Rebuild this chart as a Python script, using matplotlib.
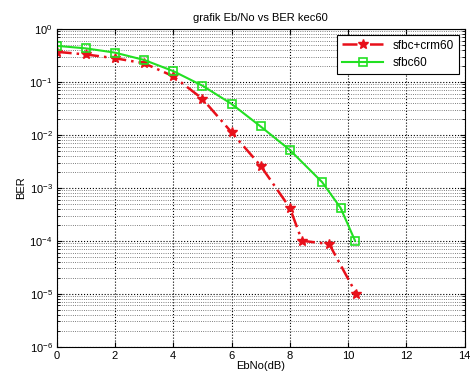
import matplotlib.pyplot as plt

# EbNo (dB) and BER values
ebno_crm = [0, 1, 2, 3, 4, 5, 6, 7, 8, 8.42, 9.35, 10.28]
ber_crm = [0.37, 0.33, 0.28, 0.225, 0.128, 0.048, 0.0112, 0.0026, 4.2e-4, 1.0e-4, 8.7e-5, 1.0e-5]

ebno_sfbc = [0, 1, 2, 3, 4, 5, 6, 7, 8, 9.11, 9.74, 10.24]
ber_sfbc = [0.48, 0.43, 0.357, 0.26, 0.160, 0.085, 0.0385, 0.0144, 5.2e-3, 1.28e-3, 4.2e-4, 1.0e-4]

xticks = [0, 2, 4, 6, 8, 10, 12, 14]

plt.rcParams['font.family'] = ['Liberation Sans', 'DejaVu Sans']

fig = plt.figure(figsize=(4.7, 3.81), dpi=100)
ax = fig.add_axes([0.1206, 0.09, 0.868, 0.834])

ax.semilogy(ebno_crm, ber_crm, color='#e8101a', linestyle=(0, (6, 2, 1, 2)), linewidth=1.8,
            marker='*', markersize=7, label='sfbc+crm60')
ax.semilogy(ebno_sfbc, ber_sfbc, color='#22e022', linestyle='-', linewidth=1.5,
            marker='s', markersize=6, markerfacecolor='none', markeredgewidth=1.2,
            label='sfbc60')

ax.set_xlim(0, 14)
ax.set_ylim(1e-6, 1)
ax.set_xticks(xticks)
ax.grid(True, which='major', linestyle=':', color='black', linewidth=0.8)
ax.grid(True, which='minor', axis='y', linestyle=':', color='#555555', linewidth=0.6)
ax.tick_params(labelsize=8, direction='in', which='both', top=True, right=True, pad=3)

ax.set_title('grafik Eb/No vs BER kec60', fontsize=8)
ax.set_xlabel('EbNo(dB)', fontsize=8, labelpad=0)
ax.set_ylabel('BER', fontsize=8, labelpad=2)

leg = ax.legend(loc='upper right', fontsize=8.5, fancybox=False, framealpha=1,
                edgecolor='black', handlelength=3.5, borderaxespad=0.5)
leg.get_frame().set_linewidth(0.8)

for s in ax.spines.values():
    s.set_linewidth(0.8)

fig.savefig('out.png', dpi=100)
